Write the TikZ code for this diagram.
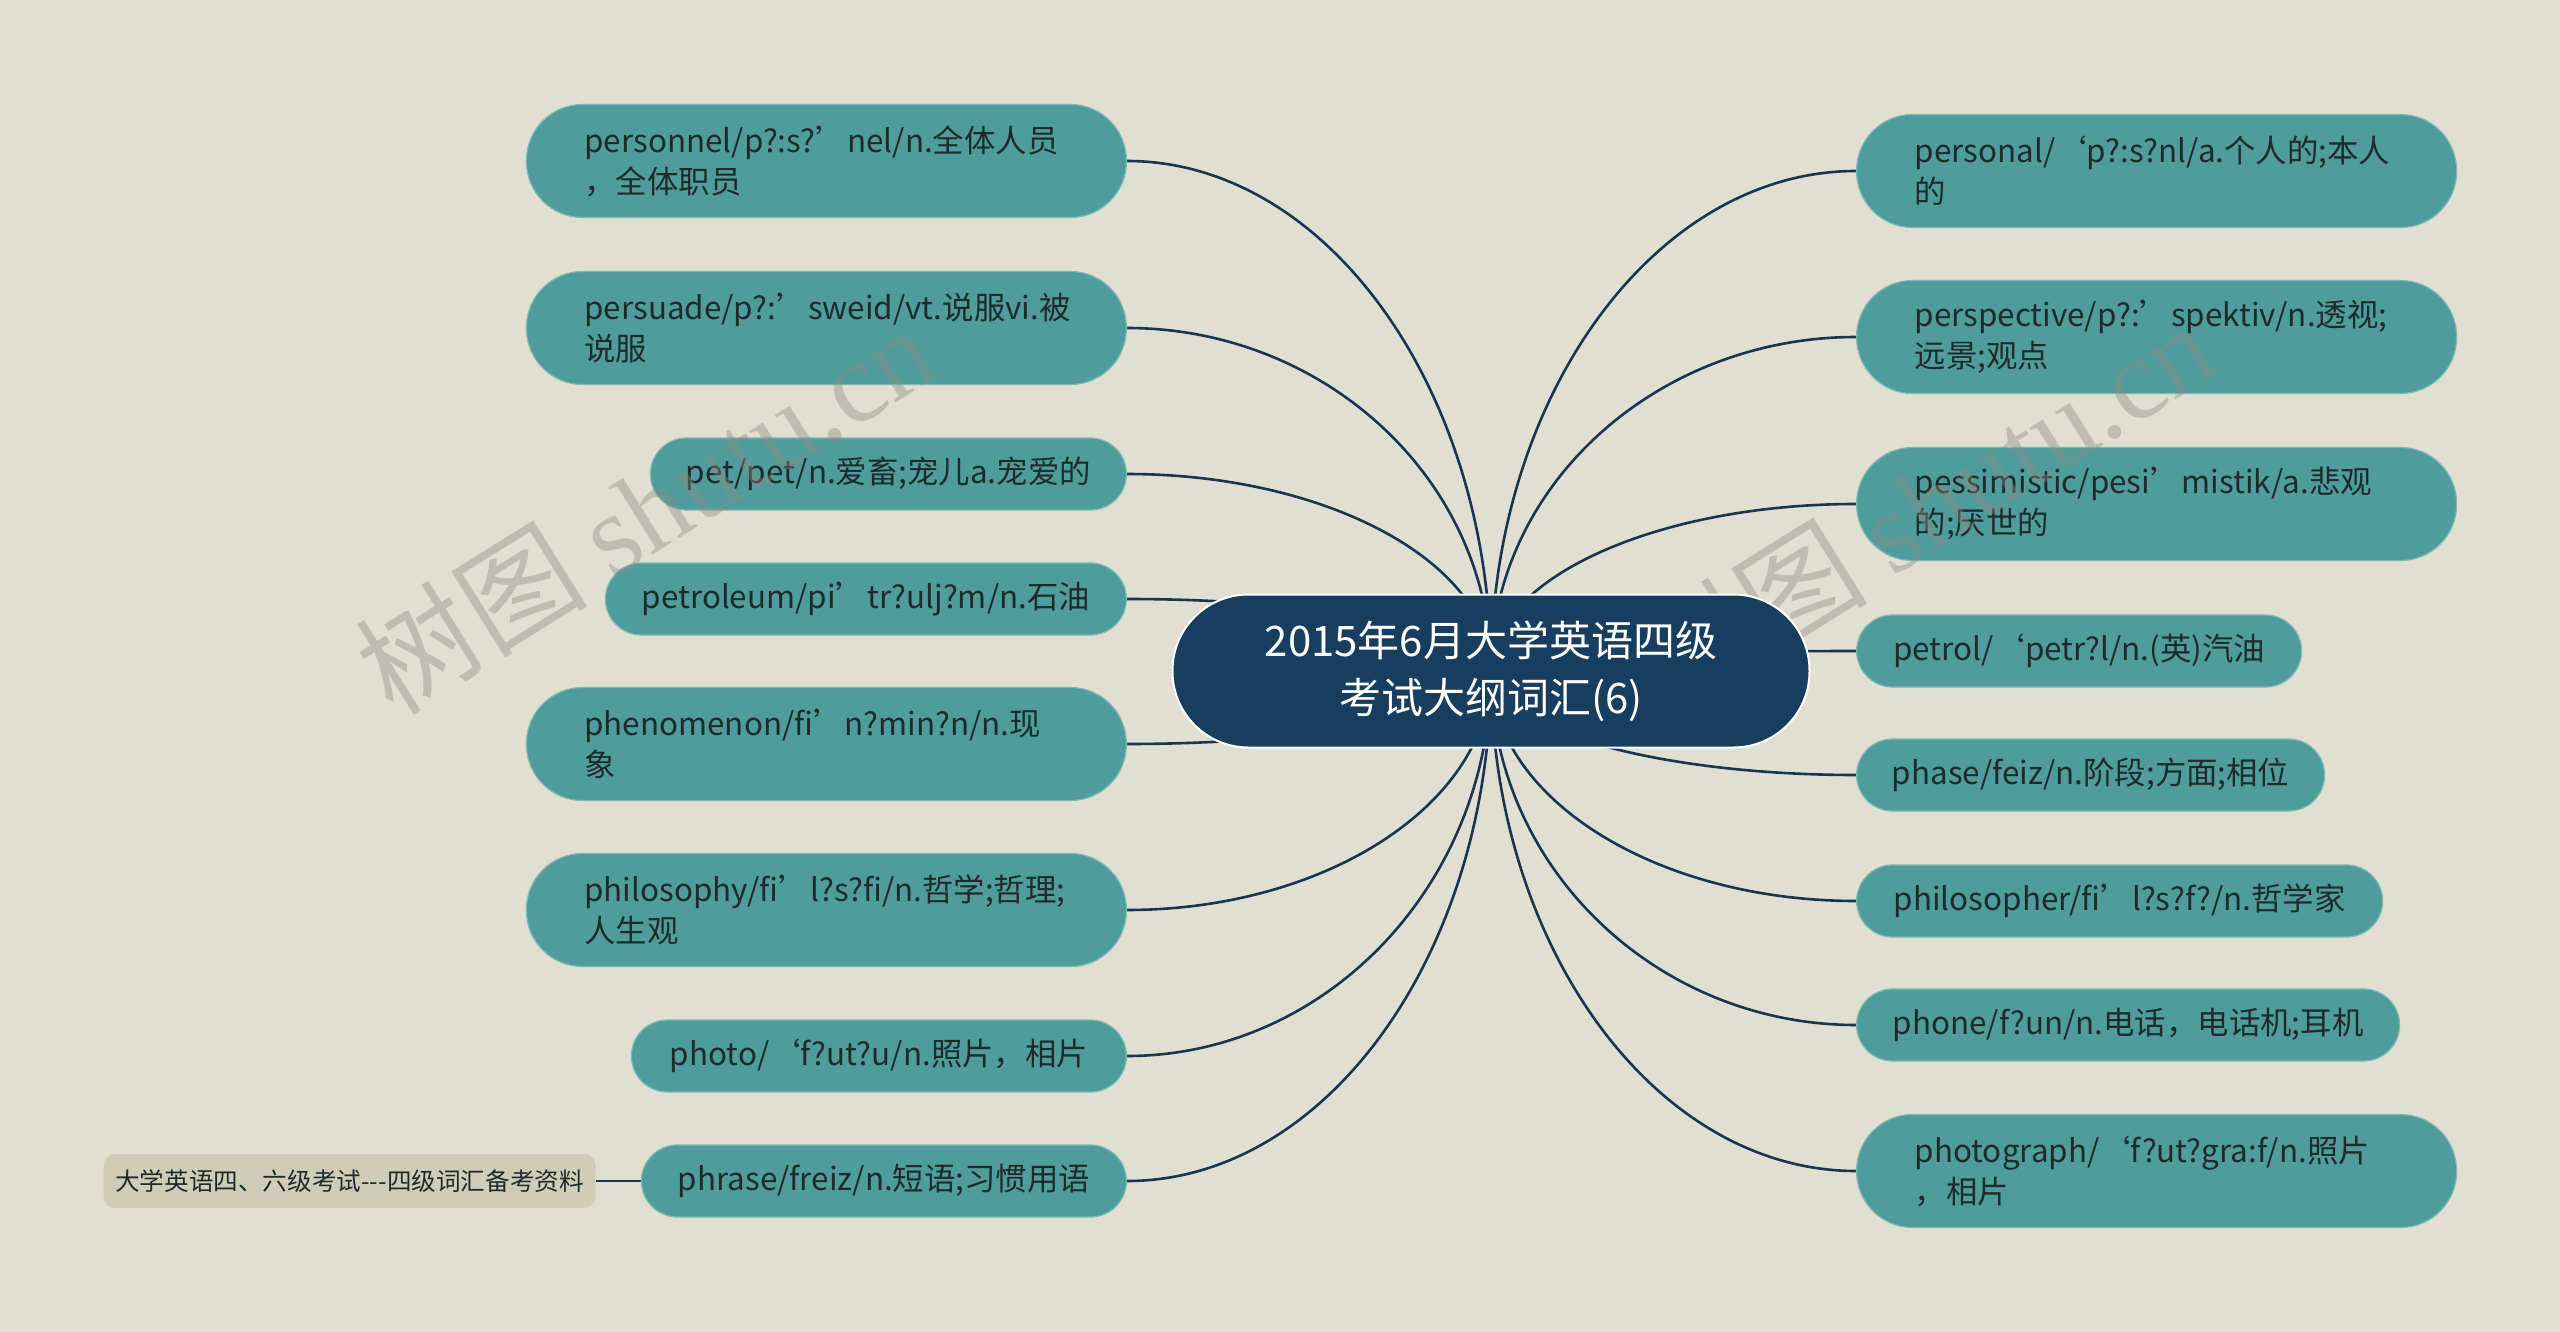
\documentclass[tikz,border=0pt]{standalone}
\usepackage{fontspec}
\setmainfont{Noto Sans CJK SC}
\newfontfamily\markserif{Liberation Serif}
\usetikzlibrary{backgrounds, calc}

\pgfdeclarelayer{front}
\pgfsetlayers{background,main,front}

\definecolor{paper}{HTML}{E0DFD1}
\definecolor{wordfill}{HTML}{4E9C9C}
\definecolor{wordedge}{HTML}{7DBAB5}
\definecolor{wordtext}{HTML}{1F2B2B}
\definecolor{hubfill}{HTML}{173E5E}
\definecolor{linkcol}{HTML}{1B3550}
\definecolor{notefill}{HTML}{CFCDB7}
\definecolor{marktext}{HTML}{8C8C84}

\begin{document}
\begin{tikzpicture}[
            x=0.5pt, y=-0.5pt,
            link/.style={draw=linkcol, line width=1.3pt},
            word/.style={rectangle, fill=wordfill, draw=wordedge, line width=0.6pt, text=wordtext, inner sep=0pt, font=\fontsize{15.7}{20.5}\selectfont},
            oneline/.style={word, rounded corners=18pt, minimum height=36pt},
            twoline/.style={word, rounded corners=28pt, minimum height=56.5pt, text width=242pt, inner xsep=29pt, align=left},
            hub/.style={rectangle, fill=hubfill, draw=white, line width=1pt, text=white, rounded corners=38pt, minimum width=318.5pt, minimum height=76.5pt, align=center, font=\fontsize{21}{28.5}\selectfont},
            note/.style={rectangle, fill=notefill, rounded corners=6pt, minimum width=246pt, minimum height=27pt, text=wordtext, font=\fontsize{12.3}{15}\selectfont},
            watermark/.style={text=marktext, text opacity=0.4, font=\fontsize{58}{60}\selectfont}
        ]
        \useasboundingbox (0,0) rectangle (2560,1332);

        \begin{pgfonlayer}{front}
            \node [hub] (hub) at (1491,671) {2015年6月大学英语四级\\考试大纲词汇(6)};
        \end{pgfonlayer}

        % Left words
        \node [twoline, anchor=east] (personnel) at (1127,161) {personnel/p?:s?’nel/n.全体人员\\，全体职员};
        \node [twoline, anchor=east] (persuade) at (1127,328) {persuade/p?:’sweid/vt.说服vi.被\\说服};
        \node [oneline, anchor=east, minimum width=238pt] (pet) at (1127,474) {pet/pet/n.爱畜;宠儿a.宠爱的};
        \node [oneline, anchor=east, minimum width=260.5pt] (petroleum) at (1127,599) {petroleum/pi’tr?ulj?m/n.石油};
        \node [twoline, anchor=east] (phenomenon) at (1127,744) {phenomenon/fi’n?min?n/n.现\\象};
        \node [twoline, anchor=east] (philosophy) at (1127,910) {philosophy/fi’l?s?fi/n.哲学;哲理;\\人生观};
        \node [oneline, anchor=east, minimum width=247.5pt] (photo) at (1127,1056) {photo/‘f?ut?u/n.照片，相片};
        \node [oneline, anchor=east, minimum width=242.5pt] (phrase) at (1127,1181) {phrase/freiz/n.短语;习惯用语};
        \node [note, anchor=east] (source) at (596,1181) {大学英语四、六级考试-{}-{}-四级词汇备考资料};

        % Right words
        \node [twoline, anchor=west] (personal) at (1856,171) {personal/‘p?:s?nl/a.个人的;本人\\的};
        \node [twoline, anchor=west] (perspective) at (1856,337) {perspective/p?:’spektiv/n.透视;\\远景;观点};
        \node [twoline, anchor=west] (pessimistic) at (1856,504) {pessimistic/pesi’mistik/a.悲观\\的;厌世的};
        \node [oneline, anchor=west, minimum width=222.5pt] (petrol) at (1856,651) {petrol/‘petr?l/n.(英)汽油};
        \node [oneline, anchor=west, minimum width=234pt] (phase) at (1856,775) {phase/feiz/n.阶段;方面;相位};
        \node [oneline, anchor=west, minimum width=263pt] (philosopher) at (1856,901) {philosopher/fi’l?s?f?/n.哲学家};
        \node [oneline, anchor=west, minimum width=271.5pt] (phone) at (1856,1025) {phone/f?un/n.电话，电话机;耳机};
        \node [twoline, anchor=west] (photograph) at (1856,1171) {photograph/‘f?ut?gra:f/n.照片\\，相片};

        \begin{scope}[on background layer]
            \fill [paper] (0,0) rectangle (2560,1332);

            % Links to the left
            \draw [link] (hub.center) .. controls ($(hub.center)!0.55!(hub.center |- personnel.east)$) and ($(personnel.east)!0.55!(hub.center |- personnel.east)$) .. (personnel.east);
            \draw [link] (hub.center) .. controls ($(hub.center)!0.55!(hub.center |- persuade.east)$) and ($(persuade.east)!0.55!(hub.center |- persuade.east)$) .. (persuade.east);
            \draw [link] (hub.center) .. controls ($(hub.center)!0.55!(hub.center |- pet.east)$) and ($(pet.east)!0.55!(hub.center |- pet.east)$) .. (pet.east);
            \draw [link] (hub.center) .. controls ($(hub.center)!0.55!(hub.center |- petroleum.east)$) and ($(petroleum.east)!0.55!(hub.center |- petroleum.east)$) .. (petroleum.east);
            \draw [link] (hub.center) .. controls ($(hub.center)!0.55!(hub.center |- phenomenon.east)$) and ($(phenomenon.east)!0.55!(hub.center |- phenomenon.east)$) .. (phenomenon.east);
            \draw [link] (hub.center) .. controls ($(hub.center)!0.55!(hub.center |- philosophy.east)$) and ($(philosophy.east)!0.55!(hub.center |- philosophy.east)$) .. (philosophy.east);
            \draw [link] (hub.center) .. controls ($(hub.center)!0.55!(hub.center |- photo.east)$) and ($(photo.east)!0.55!(hub.center |- photo.east)$) .. (photo.east);
            \draw [link] (hub.center) .. controls ($(hub.center)!0.55!(hub.center |- phrase.east)$) and ($(phrase.east)!0.55!(hub.center |- phrase.east)$) .. (phrase.east);
            \draw [link] (phrase.west) -- (source.east);

            % Links to the right
            \draw [link] (hub.center) .. controls ($(hub.center)!0.55!(hub.center |- personal.west)$) and ($(personal.west)!0.55!(hub.center |- personal.west)$) .. (personal.west);
            \draw [link] (hub.center) .. controls ($(hub.center)!0.55!(hub.center |- perspective.west)$) and ($(perspective.west)!0.55!(hub.center |- perspective.west)$) .. (perspective.west);
            \draw [link] (hub.center) .. controls ($(hub.center)!0.55!(hub.center |- pessimistic.west)$) and ($(pessimistic.west)!0.55!(hub.center |- pessimistic.west)$) .. (pessimistic.west);
            \draw [link] (hub.center) .. controls ($(hub.center)!0.55!(hub.center |- petrol.west)$) and ($(petrol.west)!0.55!(hub.center |- petrol.west)$) .. (petrol.west);
            \draw [link] (hub.center) .. controls ($(hub.center)!0.55!(hub.center |- phase.west)$) and ($(phase.west)!0.55!(hub.center |- phase.west)$) .. (phase.west);
            \draw [link] (hub.center) .. controls ($(hub.center)!0.55!(hub.center |- philosopher.west)$) and ($(philosopher.west)!0.55!(hub.center |- philosopher.west)$) .. (philosopher.west);
            \draw [link] (hub.center) .. controls ($(hub.center)!0.55!(hub.center |- phone.west)$) and ($(phone.west)!0.55!(hub.center |- phone.west)$) .. (phone.west);
            \draw [link] (hub.center) .. controls ($(hub.center)!0.55!(hub.center |- photograph.west)$) and ($(photograph.west)!0.55!(hub.center |- photograph.west)$) .. (photograph.west);
        \end{scope}

        % Watermarks
        \node [watermark, rotate=32] (mark1) at (645,508) {树图 {\markserif shutu.cn}};
        \node [watermark, rotate=32] (mark2) at (1925,505) {树图 {\markserif shutu.cn}};
    \end{tikzpicture}
\end{document}
